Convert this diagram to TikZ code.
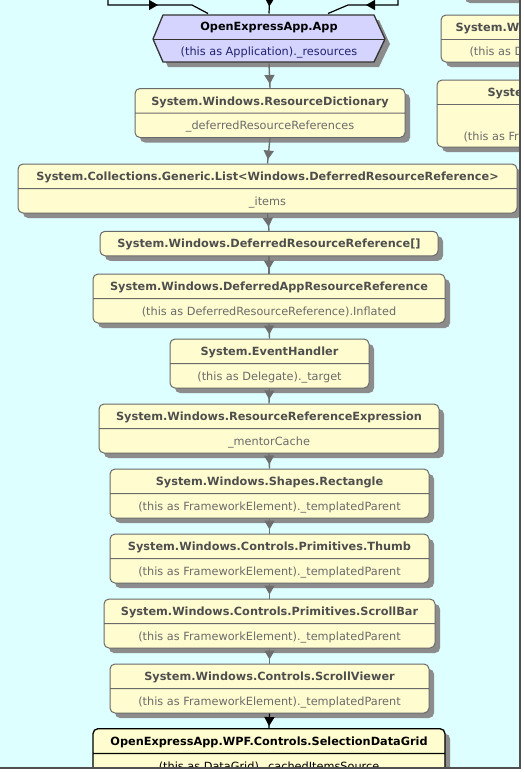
\documentclass[tikz,border=0pt]{standalone}
\usepackage{fontspec}
\setmainfont{DejaVu Sans}
\usetikzlibrary{shapes.multipart,shadows,arrows.meta,decorations.markings}
\definecolor{bgcyan}{HTML}{DDFFFF}
\definecolor{boxfill}{HTML}{FFFDD0}
\definecolor{hexfill}{HTML}{D4D4FF}
\definecolor{boxline}{HTML}{6A6A6A}
\definecolor{shade}{HTML}{8C8C8C}
\definecolor{edgegray}{HTML}{6E6E6E}
\definecolor{ttlgray}{HTML}{4E4E4E}
\definecolor{fldgray}{HTML}{6A6A6A}
\definecolor{navy}{HTML}{22226E}
\definecolor{framegray}{HTML}{505050}
\newcommand{\clsname}[2][ttlgray]{\rule[-3.2pt]{0pt}{12pt}\raisebox{-1.6pt}[0pt][0pt]{\textcolor{#1}{\textbf{#2}}}}
\newcommand{\fldname}[2][fldgray]{\rule[-3.2pt]{0pt}{12pt}\raisebox{-1.6pt}[0pt][0pt]{\textcolor{#1}{#2}}}

\begin{document}
\begin{tikzpicture}[x=1pt, y=-1pt, line width=1pt, font=\fontsize{11.3}{13}\selectfont,
  classbox/.style={rectangle split, rectangle split parts=2, draw=boxline, fill=boxfill,
    rounded corners=5pt, inner xsep=4pt, inner ysep=5.75pt, align=center,
    drop shadow={shadow xshift=5pt, shadow yshift=-5pt, fill=shade, opacity=1}},
  sidebox/.style={draw=boxline, fill=boxfill, rounded corners=5pt,
    drop shadow={shadow xshift=5pt, shadow yshift=-5pt, fill=shade, opacity=1}},
  sidetext/.style={anchor=west, inner sep=0pt},
  grayedge/.style={draw=edgegray, line width=1.4pt, postaction={decorate,
    decoration={markings, mark=at position -4pt with {\arrow[edgegray]{Triangle[length=9pt,width=10pt]}}}}},
  blackedge/.style={draw=black, line width=1.2pt}]
  \useasboundingbox (0,0) rectangle (523,772);
  \fill[white] (0,0) rectangle (523,772);
  \begin{scope}
  \clip (0,0) rectangle (519,767);
  \fill[bgcyan] (0,0) rectangle (519,767);
  \draw[sidebox] (460,-40) rectangle (600,-2);
  \draw[sidebox] (441,15) rectangle (600,62);
  \draw[boxline] (441,39) -- (600,39);
  \node[sidetext] (rwintitle) at (455,27) {\clsname{System.W}};
  \node[sidetext] (rwinfield) at (469,51) {\fldname{(this as D}};
  \draw[sidebox] (437,80) rectangle (600,147);
  \draw[boxline] (437,104) -- (600,104);
  \node[sidetext] (rfwtitle) at (487,92) {\clsname{Syste}};
  \node[sidetext] (rfwfield) at (463,136) {\fldname{(this as Fr}};
  \draw[draw=black!80, line width=1.3pt, fill=hexfill,
    drop shadow={shadow xshift=5pt, shadow yshift=-5pt, fill=shade, opacity=1}]
    (163,15) -- (374,15) -- (385,39) -- (374,62) -- (163,62) -- (153,39) -- cycle;
  \draw[draw=black!80, line width=1pt] (153,39) -- (385,39);
  \node[rectangle split, rectangle split parts=2, inner ysep=5.75pt, minimum width=211] (app) at (269,38.5)
    {\clsname[black]{OpenExpressApp.App}\nodepart{two}\fldname[navy]{(this as Application).\_resources}};
  \node[classbox, minimum width=270] (dict) at (270,113)
    {\clsname{System.Windows.ResourceDictionary}\nodepart{two}\fldname{\_deferredResourceReferences}};
  \node[classbox, minimum width=499] (list) at (267.5,188.5)
    {\clsname{System.Collections.Generic.List<Windows.DeferredResourceReference>}\nodepart{two}\fldname{\_items}};
  \node[classbox, rectangle split parts=1, minimum width=338, minimum height=27] (arr) at (269,243.5)
    {\clsname{System.Windows.DeferredResourceReference[]}};
  \node[classbox, minimum width=352] (dapp) at (269,298.5)
    {\clsname{System.Windows.DeferredAppResourceReference}\nodepart{two}\fldname{(this as DeferredResourceReference).Inflated}};
  \node[classbox, minimum width=199] (evh) at (269.5,363.5)
    {\clsname{System.EventHandler}\nodepart{two}\fldname{(this as Delegate).\_target}};
  \node[classbox, minimum width=340] (rre) at (269,428.5)
    {\clsname{System.Windows.ResourceReferenceExpression}\nodepart{two}\fldname{\_mentorCache}};
  \node[classbox, minimum width=319] (rect) at (269.5,493.5)
    {\clsname{System.Windows.Shapes.Rectangle}\nodepart{two}\fldname{(this as FrameworkElement).\_templatedParent}};
  \node[classbox, minimum width=319] (thumb) at (269.5,558.5)
    {\clsname{System.Windows.Controls.Primitives.Thumb}\nodepart{two}\fldname{(this as FrameworkElement).\_templatedParent}};
  \node[classbox, minimum width=331] (sbar) at (269.5,623.5)
    {\clsname{System.Windows.Controls.Primitives.ScrollBar}\nodepart{two}\fldname{(this as FrameworkElement).\_templatedParent}};
  \node[classbox, minimum width=319] (sview) at (269.5,688.5)
    {\clsname{System.Windows.Controls.ScrollViewer}\nodepart{two}\fldname{(this as FrameworkElement).\_templatedParent}};
  \node[classbox, draw=black, line width=1.3pt, minimum width=352] (grid) at (269,753.5)
    {\clsname[black]{OpenExpressApp.WPF.Controls.SelectionDataGrid}\nodepart{two}\fldname[black]{(this as DataGrid).\_cachedItemsSource}};
  \coordinate (upL) at (108,-10);
  \coordinate (upM) at (270,-10);
  \coordinate (upR) at (398,-10);
  \draw[blackedge, postaction={decorate, decoration={markings,
    mark=at position 65pt with {\arrow{Triangle[length=9pt,width=10pt]}}}}]
    (upL) |- (192,5) -- ([xshift=-61pt]app.north);
  \draw[blackedge, postaction={decorate, decoration={markings,
    mark=at position 47pt with {\arrow{Triangle[length=9pt,width=10pt]}}}}]
    (upR) |- (348,5) -- ([xshift=59pt]app.north);
  \draw[blackedge, postaction={decorate, decoration={markings,
    mark=at position -7pt with {\arrow{Triangle[length=9pt,width=10pt]}}}}]
    (upM) -- (app.north);
  \draw[grayedge] (app.south) -- (dict.north);
  \draw[grayedge] (dict.south) -- (list.north);
  \draw[grayedge] (list.south) -- (arr.north);
  \draw[grayedge] (arr.south) -- (dapp.north);
  \draw[grayedge] (dapp.south) -- (evh.north);
  \draw[grayedge] (evh.south) -- (rre.north);
  \draw[grayedge] (rre.south) -- (rect.north);
  \draw[grayedge] (rect.south) -- (thumb.north);
  \draw[grayedge] (thumb.south) -- (sbar.north);
  \draw[grayedge] (sbar.south) -- (sview.north);
  \draw[blackedge, postaction={decorate, decoration={markings,
    mark=at position -2pt with {\arrow{Triangle[length=9pt,width=10pt]}}}}]
    (sview.south) -- (grid.north);
  \end{scope}
  \draw[framegray, line width=2pt] (520,0) -- (520,768) -- (0,768);
\end{tikzpicture}
\end{document}
